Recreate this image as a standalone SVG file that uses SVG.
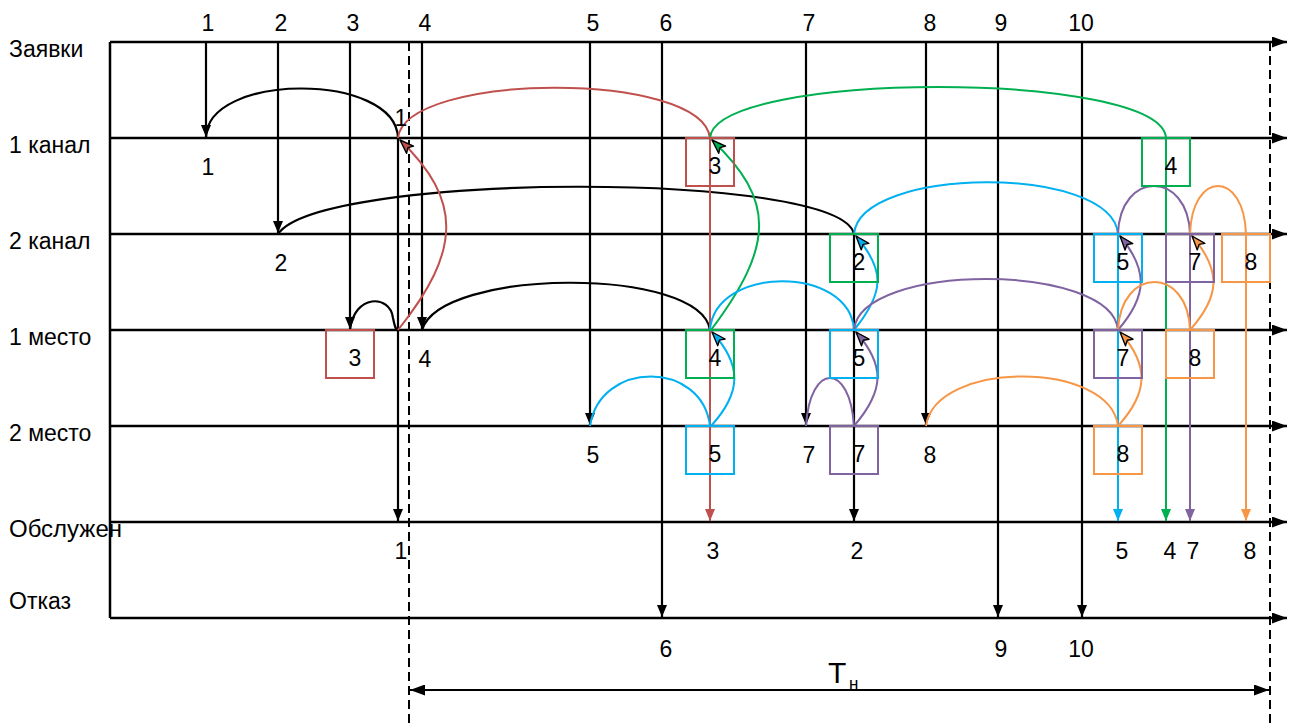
<svg xmlns="http://www.w3.org/2000/svg" width="1289" height="728" viewBox="0 0 1289 728">
<style>
text{font-family:"Liberation Sans",Arial,sans-serif;font-size:23px;fill:#000}
.ax{stroke:#000;stroke-width:2.5;fill:none}
.k{stroke:#000;stroke-width:2.2;fill:none}
.dash{stroke:#000;stroke-width:2;stroke-dasharray:9 5;fill:none}
.r{stroke:#C0504D;stroke-width:2;fill:none}
.g{stroke:#00B050;stroke-width:2;fill:none}
.b{stroke:#00B0F0;stroke-width:2;fill:none}
.p{stroke:#8064A2;stroke-width:2;fill:none}
.o{stroke:#F79646;stroke-width:2;fill:none}
.box{fill:none;stroke-width:2}
.lbl{text-anchor:middle}
</style>
<defs>
<marker id="axh" viewBox="0 0 15 11" refX="15" refY="5.5" markerWidth="15" markerHeight="11" markerUnits="userSpaceOnUse" orient="auto-start-reverse"><path d="M0,0 L15,5.5 L0,11 z" fill="#000"/></marker>
<marker id="ak" viewBox="0 0 12 10" refX="12" refY="5" markerWidth="12" markerHeight="10" markerUnits="userSpaceOnUse" orient="auto"><path d="M0,0 L12,5 L0,10 z" fill="#000"/></marker>
<marker id="ar" viewBox="0 0 12 10" refX="12" refY="5" markerWidth="12" markerHeight="10" markerUnits="userSpaceOnUse" orient="auto"><path d="M0,0 L12,5 L0,10 z" fill="#C0504D"/></marker>
<marker id="ag" viewBox="0 0 12 10" refX="12" refY="5" markerWidth="12" markerHeight="10" markerUnits="userSpaceOnUse" orient="auto"><path d="M0,0 L12,5 L0,10 z" fill="#00B050"/></marker>
<marker id="ab" viewBox="0 0 12 10" refX="12" refY="5" markerWidth="12" markerHeight="10" markerUnits="userSpaceOnUse" orient="auto"><path d="M0,0 L12,5 L0,10 z" fill="#00B0F0"/></marker>
<marker id="ap" viewBox="0 0 12 10" refX="12" refY="5" markerWidth="12" markerHeight="10" markerUnits="userSpaceOnUse" orient="auto"><path d="M0,0 L12,5 L0,10 z" fill="#8064A2"/></marker>
<marker id="ao" viewBox="0 0 12 10" refX="12" refY="5" markerWidth="12" markerHeight="10" markerUnits="userSpaceOnUse" orient="auto"><path d="M0,0 L12,5 L0,10 z" fill="#F79646"/></marker>
<marker id="cr" viewBox="-1 -1 16 12" refX="14" refY="5" markerWidth="16" markerHeight="12" markerUnits="userSpaceOnUse" orient="auto"><path d="M0,0 L14,5 L0,10 L3,5 z" fill="#C0504D" stroke="#000" stroke-width="1.4" stroke-linejoin="round"/></marker>
<marker id="cg" viewBox="-1 -1 16 12" refX="14" refY="5" markerWidth="16" markerHeight="12" markerUnits="userSpaceOnUse" orient="auto"><path d="M0,0 L14,5 L0,10 L3,5 z" fill="#00B050" stroke="#000" stroke-width="1.4" stroke-linejoin="round"/></marker>
<marker id="cb" viewBox="-1 -1 16 12" refX="14" refY="5" markerWidth="16" markerHeight="12" markerUnits="userSpaceOnUse" orient="auto"><path d="M0,0 L14,5 L0,10 L3,5 z" fill="#00B0F0" stroke="#000" stroke-width="1.4" stroke-linejoin="round"/></marker>
<marker id="cp" viewBox="-1 -1 16 12" refX="14" refY="5" markerWidth="16" markerHeight="12" markerUnits="userSpaceOnUse" orient="auto"><path d="M0,0 L14,5 L0,10 L3,5 z" fill="#8064A2" stroke="#000" stroke-width="1.4" stroke-linejoin="round"/></marker>
<marker id="co" viewBox="-1 -1 16 12" refX="14" refY="5" markerWidth="16" markerHeight="12" markerUnits="userSpaceOnUse" orient="auto"><path d="M0,0 L14,5 L0,10 L3,5 z" fill="#F79646" stroke="#000" stroke-width="1.4" stroke-linejoin="round"/></marker>
</defs>
<rect x="0" y="0" width="1289" height="728" fill="#fff"/>

<g id="axes">
<path class="ax" d="M110,42 V618"/>
<path class="ax" d="M110,42 H1287" marker-end="url(#axh)"/>
<path class="ax" d="M110,138 H1287" marker-end="url(#axh)"/>
<path class="ax" d="M110,234 H1287" marker-end="url(#axh)"/>
<path class="ax" d="M110,330 H1287" marker-end="url(#axh)"/>
<path class="ax" d="M110,426 H1287" marker-end="url(#axh)"/>
<path class="ax" d="M110,522 H1287" marker-end="url(#axh)"/>
<path class="ax" d="M110,618 H1287" marker-end="url(#axh)"/>
<path class="dash" d="M409,42 V728"/>
<path class="dash" d="M1270,42 V728"/>
<path class="k" d="M410,690 H1269" marker-start="url(#axh)" marker-end="url(#axh)"/>
</g>

<g id="row-labels">
<text x="9" y="57">Заявки</text>
<text x="9" y="153">1 канал</text>
<text x="9" y="249">2 канал</text>
<text x="9" y="345">1 место</text>
<text x="9" y="441">2 место</text>
<text x="9" y="537" textLength="113" lengthAdjust="spacingAndGlyphs">Обслужен</text>
<text x="9" y="609">Отказ</text>
</g>

<g id="arrival-labels" class="lbl">
<text x="208" y="31">1</text>
<text x="281" y="31">2</text>
<text x="353" y="31">3</text>
<text x="425" y="31">4</text>
<text x="593" y="31">5</text>
<text x="666" y="31">6</text>
<text x="809" y="31">7</text>
<text x="930" y="31">8</text>
<text x="1001" y="31">9</text>
<text x="1081" y="31">10</text>
</g>

<g id="connectors">
<path class="k" d="M206,42 V137" marker-end="url(#ak)"/>
<path class="k" d="M278,42 V233" marker-end="url(#ak)"/>
<path class="k" d="M350,42 V329" marker-end="url(#ak)"/>
<path class="k" d="M422,42 V329" marker-end="url(#ak)"/>
<path class="k" d="M590,42 V425" marker-end="url(#ak)"/>
<path class="k" d="M662,42 V617" marker-end="url(#ak)"/>
<path class="k" d="M806,42 V425" marker-end="url(#ak)"/>
<path class="k" d="M926,42 V425" marker-end="url(#ak)"/>
<path class="k" d="M998,42 V617" marker-end="url(#ak)"/>
<path class="k" d="M1082,42 V617" marker-end="url(#ak)"/>
<path class="k" d="M398,138 V521" marker-end="url(#ak)"/>
<path class="k" d="M854,234 V521" marker-end="url(#ak)"/>
<path class="k" d="M206,138 C206,72 396,72 398,138"/>
<path class="k" d="M278,234 C320,172 840,170 854,234"/>
<path class="k" d="M350,330 C354,294 390,294 393,318 C395,328 396,330 398,330"/>
<path class="k" d="M422,330 C440,268 700,266 710,330"/>

<path class="r" d="M398,138 C405,72 702,70 710,138"/>
<path class="r" d="M398,330 C462,250 462,200 400,140" marker-end="url(#cr)"/>
<path class="r" d="M710,138 V521" marker-end="url(#ar)"/>

<path class="g" d="M710,138 C715,70 1162,70 1166,138"/>
<path class="g" d="M711,330 C775,245 775,200 712,140" marker-end="url(#cg)"/>
<path class="g" d="M1166,138 V521" marker-end="url(#ag)"/>

<path class="b" d="M590,426 C600,360 702,360 710,426"/>
<path class="b" d="M711,426 C742,392 742,365 712,332" marker-end="url(#cb)"/>
<path class="b" d="M710,330 C715,265 850,265 854,330"/>
<path class="b" d="M854,330 C885,292 885,270 856,236" marker-end="url(#cb)"/>
<path class="b" d="M854,234 C860,166 1112,164 1118,234"/>
<path class="b" d="M1118,234 V521" marker-end="url(#ab)"/>

<path class="p" d="M806,426 C810,362 850,362 854,426"/>
<path class="p" d="M854,426 C885,390 885,365 856,332" marker-end="url(#cp)"/>
<path class="p" d="M854,330 C860,262 1112,262 1118,330"/>
<path class="p" d="M1118,330 C1148,295 1148,270 1120,236" marker-end="url(#cp)"/>
<path class="p" d="M1118,234 C1120,170 1188,170 1190,234"/>
<path class="p" d="M1190,234 V521" marker-end="url(#ap)"/>

<path class="o" d="M926,426 C935,360 1110,360 1118,426"/>
<path class="o" d="M1118,426 C1149,392 1149,365 1120,332" marker-end="url(#co)"/>
<path class="o" d="M1118,330 C1121,266 1188,266 1190,330"/>
<path class="o" d="M1190,330 C1221,295 1221,270 1192,236" marker-end="url(#co)"/>
<path class="o" d="M1190,234 C1192,170 1244,170 1246,234 V521" marker-end="url(#ao)"/>
</g>

<g id="node-r3a"><rect class="box" x="326" y="330" width="48" height="48" stroke="#C0504D"/><text class="lbl" x="355" y="366">3</text></g>
<g id="node-r3b"><rect class="box" x="686" y="138" width="48" height="48" stroke="#C0504D"/><text class="lbl" x="715" y="174">3</text></g>
<g id="node-g4a"><rect class="box" x="686" y="330" width="48" height="48" stroke="#00B050"/><text class="lbl" x="715" y="366">4</text></g>
<g id="node-g2"><rect class="box" x="830" y="234" width="48" height="48" stroke="#00B050"/><text class="lbl" x="859" y="270">2</text></g>
<g id="node-g4b"><rect class="box" x="1142" y="138" width="48" height="48" stroke="#00B050"/><text class="lbl" x="1171" y="174">4</text></g>
<g id="node-b5a"><rect class="box" x="830" y="330" width="48" height="48" stroke="#00B0F0"/><text class="lbl" x="859" y="366">5</text></g>
<g id="node-b5b"><rect class="box" x="686" y="426" width="48" height="48" stroke="#00B0F0"/><text class="lbl" x="715" y="462">5</text></g>
<g id="node-b5c"><rect class="box" x="1094" y="234" width="48" height="48" stroke="#00B0F0"/><text class="lbl" x="1123" y="270">5</text></g>
<g id="node-p7a"><rect class="box" x="830" y="426" width="48" height="48" stroke="#8064A2"/><text class="lbl" x="859" y="462">7</text></g>
<g id="node-p7b"><rect class="box" x="1094" y="330" width="48" height="48" stroke="#8064A2"/><text class="lbl" x="1123" y="366">7</text></g>
<g id="node-p7c"><rect class="box" x="1166" y="234" width="48" height="48" stroke="#8064A2"/><text class="lbl" x="1195" y="270">7</text></g>
<g id="node-o8a"><rect class="box" x="1094" y="426" width="48" height="48" stroke="#F79646"/><text class="lbl" x="1123" y="462">8</text></g>
<g id="node-o8b"><rect class="box" x="1166" y="330" width="48" height="48" stroke="#F79646"/><text class="lbl" x="1195" y="366">8</text></g>
<g id="node-o8c"><rect class="box" x="1222" y="234" width="48" height="48" stroke="#F79646"/><text class="lbl" x="1251" y="270">8</text></g>

<g id="event-labels" class="lbl">
<text x="401" y="126">1</text>
<text x="208" y="175">1</text>
<text x="281" y="271">2</text>
<text x="425" y="367">4</text>
<text x="593" y="463">5</text>
<text x="809" y="463">7</text>
<text x="930" y="463">8</text>
<text x="401" y="559">1</text>
<text x="713" y="559">3</text>
<text x="857" y="559">2</text>
<text x="1122" y="559">5</text>
<text x="1170" y="559">4</text>
<text x="1193" y="559">7</text>
<text x="1250" y="559">8</text>
<text x="666" y="657">6</text>
<text x="1001" y="657">9</text>
<text x="1081" y="657">10</text>
</g>

<g id="period-label">
<text x="828" y="683" style="font-size:30px">Т</text>
<text x="849" y="689" style="font-size:17px">н</text>
</g>
</svg>
